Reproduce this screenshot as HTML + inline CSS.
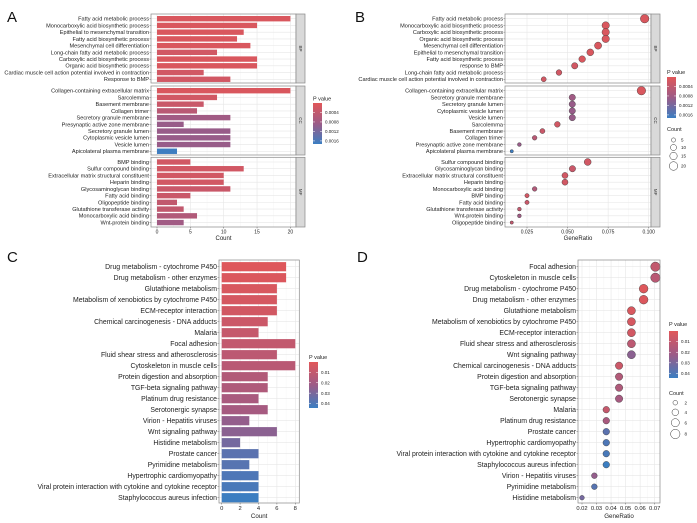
<!DOCTYPE html>
<html><head><meta charset="utf-8"><style>
html,body{margin:0;padding:0;background:#fff;}
svg{display:block;font-family:"Liberation Sans",Arial,sans-serif;}
</style></head><body>
<svg id="chart" width="697" height="523" viewBox="0 0 697 523" xmlns="http://www.w3.org/2000/svg">
<defs>
<linearGradient id="pg" x1="0" y1="0" x2="0" y2="1">
<stop offset="0" stop-color="#E15759"/><stop offset="0.5" stop-color="#9C5B87"/><stop offset="1" stop-color="#3B7EC2"/>
</linearGradient>
</defs>
</svg>
<script>
// ---------- Panel A data (GO bar) ----------
const aBPTerms=["Fatty acid metabolic process","Monocarboxylic acid biosynthetic process","Epithelial to mesenchymal transition","Fatty acid biosynthetic process","Mesenchymal cell differentiation","Long-chain fatty acid metabolic process","Carboxylic acid biosynthetic process","Organic acid biosynthetic process","Cardiac muscle cell action potential involved in contraction","Response to BMP"];
const aBPCounts=[20,15,13,12,14,9,15,15,7,11];
const aBPP=[0.0001,0.0001,0.0001,0.0001,0.0001,0.0002,0.0001,0.0001,0.0002,0.0002];
const aCCTerms=["Collagen-containing extracellular matrix","Sarcolemma","Basement membrane","Collagen trimer","Secretory granule membrane","Presynaptic active zone membrane","Secretory granule lumen","Cytoplasmic vesicle lumen","Vesicle lumen","Apicolateral plasma membrane"];
const aCCCounts=[20,9,7,6,11,4,11,11,11,3];
const aCCP=[0.0001,0.0002,0.0003,0.0005,0.0008,0.0009,0.0009,0.0009,0.0009,0.0017];
const aMFTerms=["BMP binding","Sulfur compound binding","Extracellular matrix structural constituent","Heparin binding","Glycosaminoglycan binding","Fatty acid binding","Oligopeptide binding","Glutathione transferase activity","Monocarboxylic acid binding","Wnt-protein binding"];
const aMFCounts=[5,13,10,10,11,5,3,4,6,4];
const aMFP=[0.0002,0.0002,0.0002,0.0002,0.0003,0.0003,0.0004,0.0004,0.0006,0.0008];
const goTicks=[0,5,10,15,20];
const goPTicks=[0.0004,0.0008,0.0012,0.0016];
const goPTickLabels=["0.0004","0.0008","0.0012","0.0016"];
// ---------- Panel B data (GO dot) ----------
const bBPTerms=["Fatty acid metabolic process","Monocarboxylic acid biosynthetic process","Carboxylic acid biosynthetic process","Organic acid biosynthetic process","Mesenchymal cell differentiation","Epithelial to mesenchymal transition","Fatty acid biosynthetic process","response to BMP","Long-chain fatty acid metabolic process","Cardiac muscle cell action potential involved in contraction"];
const bBPRatio=[0.0975,0.0735,0.0735,0.0735,0.0688,0.064,0.059,0.0544,0.0447,0.0353];
const bBPCount=[20,15,15,15,14,13,12,11,9,7];
const bBPP=[0.0001,0.0001,0.0001,0.0001,0.0001,0.0001,0.0001,0.0002,0.0002,0.0002];
const bCCTerms=["Collagen-containing extracellular matrix","Secretory granule membrane","Secretory granule lumen","Cytoplasmic vesicle lumen","Vesicle lumen","Sarcolemma","Basement membrane","Collagen trimer","Presynaptic active zone membrane","Apicolateral plasma membrane"];
const bCCRatio=[0.0955,0.0529,0.0529,0.0529,0.0529,0.0437,0.0345,0.0297,0.0203,0.0156];
const bCCCount=[20,11,11,11,11,9,7,6,4,3];
const bCCP=[0.0001,0.0008,0.0009,0.0009,0.0009,0.0002,0.0003,0.0005,0.0009,0.0017];
const bMFTerms=["Sulfur compound binding","Glycosaminoglycan binding","Extracellular matrix structural constituent","Heparin binding","Monocarboxylic acid binding","BMP binding","Fatty acid binding","Glutathione transferase activity","Wnt-protein binding","Oligopeptide binding"];
const bMFRatio=[0.0624,0.053,0.0484,0.0484,0.0297,0.025,0.025,0.0203,0.0203,0.0156];
const bMFCount=[13,11,10,10,6,5,5,4,4,3];
const bMFP=[0.0002,0.0003,0.0002,0.0002,0.0006,0.0002,0.0003,0.0004,0.0008,0.0004];
const bTicks=[0.025,0.05,0.075,0.1];
const bTickLabels=["0.025","0.050","0.075","0.100"];
const bSizeLegend=[5,10,15,20];
// ---------- Panel C data (KEGG bar) ----------
const cTerms=["Drug metabolism - cytochrome P450","Drug metabolism - other enzymes","Glutathione metabolism","Metabolism of xenobiotics by cytochrome P450","ECM-receptor interaction","Chemical carcinogenesis - DNA adducts","Malaria","Focal adhesion","Fluid shear stress and atherosclerosis","Cytoskeleton in muscle cells","Protein digestion and absorption","TGF-beta signaling pathway","Platinum drug resistance","Serotonergic synapse","Virion - Hepatitis viruses","Wnt signaling pathway","Histidine metabolism","Prostate cancer","Pyrimidine metabolism","Hypertrophic cardiomyopathy","Viral protein interaction with cytokine and cytokine receptor","Staphylococcus aureus infection"];
const cCounts=[7,7,6,6,6,5,4,8,6,8,5,5,4,5,3,6,2,4,3,4,4,4];
const cP=[0.001,0.002,0.003,0.004,0.005,0.007,0.009,0.010,0.012,0.013,0.015,0.016,0.018,0.019,0.024,0.026,0.031,0.037,0.038,0.040,0.041,0.044];
const cTicks=[0,2,4,6,8];
const keggPTicks=[0.01,0.02,0.03,0.04];
const keggPTickLabels=["0.01","0.02","0.03","0.04"];
// ---------- Panel D data (KEGG dot) ----------
const dTerms=["Focal adhesion","Cytoskeleton in muscle cells","Drug metabolism - cytochrome P450","Drug metabolism - other enzymes","Glutathione metabolism","Metabolism of xenobiotics by cytochrome P450","ECM-receptor interaction","Fluid shear stress and atherosclerosis","Wnt signaling pathway","Chemical carcinogenesis - DNA adducts","Protein digestion and absorption","TGF-beta signaling pathway","Serotonergic synapse","Malaria","Platinum drug resistance","Prostate cancer","Hypertrophic cardiomyopathy","Viral protein interaction with cytokine and cytokine receptor","Staphylococcus aureus infection","Virion - Hepatitis viruses","Pyrimidine metabolism","Histidine metabolism"];
const dRatio=[0.0705,0.0705,0.0624,0.0624,0.054,0.054,0.054,0.054,0.054,0.0455,0.0455,0.0455,0.0455,0.0367,0.0367,0.0367,0.0367,0.0367,0.0367,0.0285,0.0285,0.020];
const dCount=[8,8,7,7,6,6,6,6,6,5,5,5,5,4,4,4,4,4,4,3,3,2];
const dP=[0.010,0.013,0.001,0.002,0.003,0.004,0.005,0.012,0.026,0.007,0.015,0.016,0.019,0.009,0.018,0.037,0.040,0.041,0.044,0.024,0.038,0.031];
const dTicks=[0.02,0.03,0.04,0.05,0.06,0.07];
const dTickLabels=["0.02","0.03","0.04","0.05","0.06","0.07"];
const dSizeLegend=[2,4,6,8];

const NS="http://www.w3.org/2000/svg";
const svg=document.getElementById('chart');
function mk(tag,attrs,parent){const e=document.createElementNS(NS,tag);for(const k in attrs)e.setAttribute(k,attrs[k]);(parent||svg).appendChild(e);return e;}
function txt(s,x,y,size,anchor,parent){const t=mk('text',{x:x,y:y,'font-size':size,'text-anchor':anchor||'start',fill:'#222'},parent);t.textContent=s;return t;}
function hex(h){return [parseInt(h.substr(1,2),16),parseInt(h.substr(3,2),16),parseInt(h.substr(5,2),16)];}
const stops=[hex('#E15759'),hex('#9C5B87'),hex('#3B7EC2')];
function pcol(p,pmax){let t=Math.max(0,Math.min(1,p/pmax));let a,b,u;if(t<0.5){a=stops[0];b=stops[1];u=t*2;}else{a=stops[1];b=stops[2];u=(t-0.5)*2;}
 const c=a.map((v,i)=>Math.round(v+(b[i]-v)*u));return 'rgb('+c.join(',')+')';}

const goPMax=0.00173, keggPMax=0.0443;

function panelLetter(s,x,y){const t=mk('text',{x:x,y:y,'font-size':15,fill:'#111'});t.textContent=s;

}

function colorbar(name,x,y,h,ticksV,ticksL,pmax,titleY){
 const g=mk('g',{});
 
 
 txt('P value',x,titleY,5.5,'start',g);
 mk('rect',{x:x,y:y,width:9,height:h,fill:'url(#pg)'},g);
 ticksV.forEach((v,i)=>{const yy=y+v/pmax*h;
  mk('line',{x1:x,x2:x+2,y1:yy,y2:yy,stroke:'#fff','stroke-width':0.5},g);
  mk('line',{x1:x+7,x2:x+9,y1:yy,y2:yy,stroke:'#fff','stroke-width':0.5},g);
  txt(ticksL[i],x+12,yy+1.6,4.5,'start',g);});
}

function facetPanel(kind,name,x1,x2,xs,ticks,tickLabels,minor,facets,labelSize){
 const g=mk('g',{});
 
 
 facets.forEach(f=>{
  const fg=mk('g',{},g);
  
  
  mk('rect',{x:x1,y:f.y0,width:x2-x1,height:f.y1-f.y0,fill:'#fff'},fg);
  minor.forEach(v=>mk('line',{x1:xs(v),x2:xs(v),y1:f.y0,y2:f.y1,stroke:'#F2F2F2','stroke-width':0.4},fg));
  ticks.forEach(v=>mk('line',{x1:xs(v),x2:xs(v),y1:f.y0,y2:f.y1,stroke:'#E6E6E6','stroke-width':0.6},fg));
  f.terms.forEach((t,i)=>{const yy=f.y0+4.7+i*6.73;
   mk('line',{x1:x1,x2:x2,y1:yy,y2:yy,stroke:'#E6E6E6','stroke-width':0.6},fg);
   mk('line',{x1:x1-1.5,x2:x1,y1:yy,y2:yy,stroke:'#444','stroke-width':0.4},fg);
   const lab=txt(t,x1-2,yy+1.9,labelSize,'end',fg);
   
   
   if(kind==='bar'){
    const b=mk('rect',{x:xs(0),y:yy-2.7,width:xs(f.vals[i])-xs(0),height:5.4,fill:pcol(f.p[i],goPMax)},fg);
    
    
   }else{
    const c=mk('circle',{cx:xs(f.vals[i]),cy:yy,r:0.96*Math.sqrt(f.counts[i]),fill:pcol(f.p[i],goPMax),stroke:'#333','stroke-width':0.4},fg);
    
    
   }
  });
  mk('rect',{x:x1,y:f.y0,width:x2-x1,height:f.y1-f.y0,fill:'none',stroke:'#888','stroke-width':0.7},fg);
  const s=mk('rect',{x:x2,y:f.y0,width:9,height:f.y1-f.y0,fill:'#D9D9D9',stroke:'#888','stroke-width':0.7},fg);
  
  
  const st=mk('text',{x:0,y:0,'font-size':4.5,'text-anchor':'middle',fill:'#333',transform:'translate('+(x2+3)+','+((f.y0+f.y1)/2)+') rotate(90)'},fg);
  st.textContent=f.strip;
 });
 const last=facets[facets.length-1].y1;
 ticks.forEach((v,i)=>{mk('line',{x1:xs(v),x2:xs(v),y1:last,y2:last+1.5,stroke:'#444','stroke-width':0.4},g);
  const t=txt(tickLabels[i],xs(v),last+6.5,5,'middle',g);
  
  });
 const xt=txt(kind==='bar'?'Count':'GeneRatio',(x1+x2)/2,last+13,6,'middle',g);
 
 
}

const fy=[[14,83],[86,155],[157.3,227]];
panelLetter('A',7,22);
const xA=v=>157+v*6.67;
facetPanel('bar','panel-a-go-bar',151,296,xA,goTicks,goTicks.map(String),[2.5,7.5,12.5,17.5],[
 {strip:'BP',y0:fy[0][0],y1:fy[0][1],terms:aBPTerms,vals:aBPCounts,p:aBPP},
 {strip:'CC',y0:fy[1][0],y1:fy[1][1],terms:aCCTerms,vals:aCCCounts,p:aCCP},
 {strip:'MF',y0:fy[2][0],y1:fy[2][1],terms:aMFTerms,vals:aMFCounts,p:aMFP}],5.6);
colorbar('panel-a-pvalue-legend',313,103,41,goPTicks,goPTickLabels,goPMax,100.5);

panelLetter('B',355,22);
const xB=v=>348+(537+(v-0.025)*4868)/3;
facetPanel('dot','panel-b-go-dot',505,651,xB,bTicks,bTickLabels,[0.0375,0.0625,0.0875],[
 {strip:'BP',y0:fy[0][0],y1:fy[0][1],terms:bBPTerms,vals:bBPRatio,counts:bBPCount,p:bBPP},
 {strip:'CC',y0:fy[1][0],y1:fy[1][1],terms:bCCTerms,vals:bCCRatio,counts:bCCCount,p:bCCP},
 {strip:'MF',y0:fy[2][0],y1:fy[2][1],terms:bMFTerms,vals:bMFRatio,counts:bMFCount,p:bMFP}],5.6);
colorbar('panel-b-pvalue-legend',667,77,41,goPTicks,goPTickLabels,goPMax,74);
(function(){const g=mk('g',{});
 
 
 txt('Count',667,131,5.5,'start',g);
 const ys=[140,147.5,156,166];
 bSizeLegend.forEach((c,i)=>{mk('circle',{cx:673.5,cy:ys[i],r:0.96*Math.sqrt(c),fill:'none',stroke:'#333','stroke-width':0.5},g);
  txt(String(c),681,ys[i]+1.6,4.5,'start',g);});})();

function keggPanel(kind,name,x1,x2,xs,ticks,tickLabels,minor,terms,vals,counts,p){
 const g=mk('g',{});
 
 
 const y0=260,y1=503;
 mk('rect',{x:x1,y:y0,width:x2-x1,height:y1-y0,fill:'#fff'},g);
 minor.forEach(v=>mk('line',{x1:xs(v),x2:xs(v),y1:y0,y2:y1,stroke:'#F2F2F2','stroke-width':0.4},g));
 ticks.forEach(v=>mk('line',{x1:xs(v),x2:xs(v),y1:y0,y2:y1,stroke:'#E6E6E6','stroke-width':0.6},g));
 terms.forEach((t,i)=>{const yy=266.7+i*11;
  mk('line',{x1:x1,x2:x2,y1:yy,y2:yy,stroke:'#E6E6E6','stroke-width':0.6},g);
  mk('line',{x1:x1-1.5,x2:x1,y1:yy,y2:yy,stroke:'#444','stroke-width':0.4},g);
  const lab=txt(t,x1-2,yy+2.4,6.9,'end',g);
  
  
  if(kind==='bar'){
   const b=mk('rect',{x:xs(0),y:yy-4.6,width:xs(vals[i])-xs(0),height:9.2,fill:pcol(p[i],keggPMax)},g);
   
   
  }else{
   const c=mk('circle',{cx:xs(vals[i]),cy:yy,r:1.66*Math.sqrt(counts[i]),fill:pcol(p[i],keggPMax),stroke:'#333','stroke-width':0.4},g);
   
   
  }
 });
 mk('rect',{x:x1,y:y0,width:x2-x1,height:y1-y0,fill:'none',stroke:'#888','stroke-width':0.7},g);
 ticks.forEach((v,i)=>{mk('line',{x1:xs(v),x2:xs(v),y1:y1,y2:y1+1.5,stroke:'#444','stroke-width':0.4},g);
  const t=txt(tickLabels[i],xs(v),y1+7,5.8,'middle',g);
  
  });
 const xt=txt(kind==='bar'?'Count':'GeneRatio',(x1+x2)/2,y1+15,6.2,'middle',g);
 
 
}

panelLetter('C',7,262);
const xC=v=>221.7+v*9.2;
keggPanel('bar','panel-c-kegg-bar',219,299.3,xC,cTicks,cTicks.map(String),[1,3,5,7],cTerms,cCounts,null,cP);
colorbar('panel-c-pvalue-legend',309,362,46,keggPTicks,keggPTickLabels,keggPMax,359);

panelLetter('D',357,262);
const xD=v=>348+(702+(v-0.02)*4360)/3;
keggPanel('dot','panel-d-kegg-dot',578,660,xD,dTicks,dTickLabels,[0.025,0.035,0.045,0.055,0.065],dTerms,dRatio,dCount,dP);
colorbar('panel-d-pvalue-legend',669,331,47,keggPTicks,keggPTickLabels,keggPMax,326);
(function(){const g=mk('g',{});
 
 
 txt('Count',669,395,5.5,'start',g);
 const ys=[402.7,412.3,422.7,434];
 dSizeLegend.forEach((c,i)=>{mk('circle',{cx:675.3,cy:ys[i],r:1.66*Math.sqrt(c),fill:'none',stroke:'#333','stroke-width':0.5},g);
  txt(String(c),684.5,ys[i]+1.6,4.5,'start',g);});})();
</script>
</body></html>
